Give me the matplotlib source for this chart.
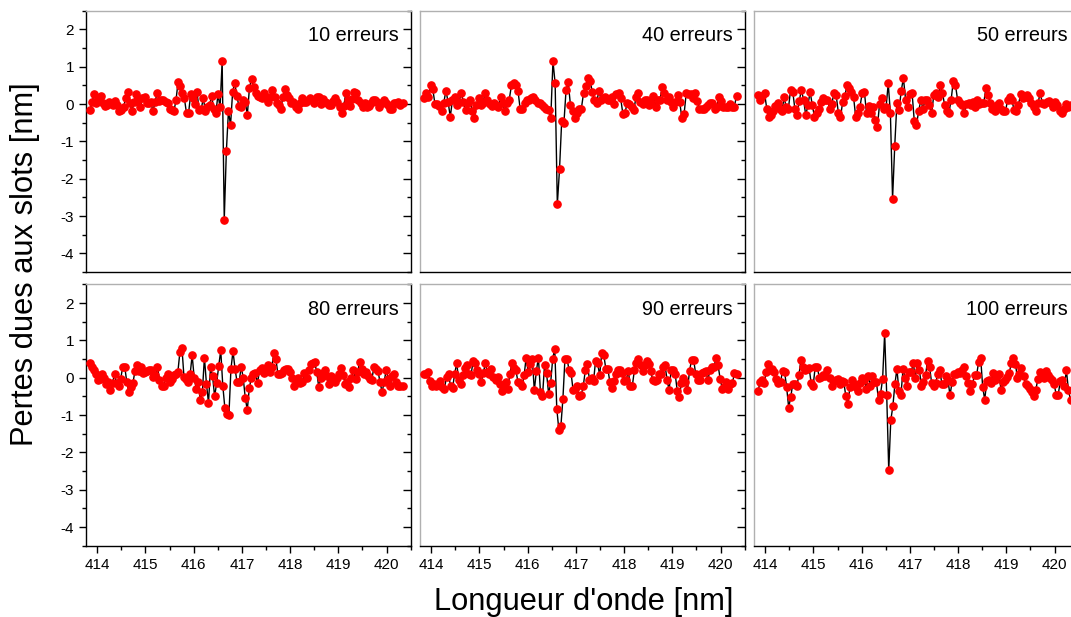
import numpy as np
import matplotlib
matplotlib.use("Agg")
import matplotlib.pyplot as plt
from matplotlib.ticker import MultipleLocator

plt.rcParams['font.family'] = ['Liberation Sans', 'DejaVu Sans']
plt.rcParams['axes.unicode_minus'] = False

# ---- data ----
WL_START, WL_END = 413.85, 420.33
titles = ["10 erreurs", "40 erreurs", "50 erreurs", "80 erreurs", "90 erreurs", "100 erreurs"]
x_ticks = [414, 415, 416, 417, 418, 419, 420]
y_ticks = [2, 1, 0, -1, -2, -3, -4]

err10 = [-0.17, 0.06, 0.28, 0.02, 0.1, 0.21, 0.02, -0.05, -0.03, 0.06, 0.02, -0.03, 0.09, -0.03, -0.2,
         -0.16, -0.07, 0.15, 0.31, 0.02, -0.19, 0.06, 0.26, 0.11, -0.07, 0.15, 0.18, 0.02, 0.04, 0.06,
         -0.2, 0.06, 0.29, 0.09, 0.12, 0.11, 0.06, 0.02, -0.14, -0.16, -0.2, 0.11, 0.6, 0.48, 0.3,
         0.15, -0.25, -0.23, 0.26, 0.17, 0.0, 0.33, -0.16, -0.14, 0.15, -0.18, -0.09, -0.03, 0.22, -0.14,
         -0.25, 0.26, -0.09, 1.15, -3.1, -1.27, -0.19, -0.56, 0.33, 0.57, 0.21, -0.05, -0.09, 0.11, 0.06,
         -0.29, 0.42, 0.68, 0.45, 0.3, 0.22, 0.2, 0.17, 0.3, 0.15, 0.06, 0.2, 0.37, 0.2, 0.02,
         -0.03, -0.12, 0.2, 0.39, 0.24, 0.15, 0.02, 0.06, -0.07, -0.12, 0.02, 0.15, 0.06, 0.06, 0.11,
         0.15, 0.11, 0.04, 0.2, 0.18, 0.0, 0.125, 0.06, 0.02, -0.03, -0.03, 0.08, 0.15, 0.06, -0.07,
         -0.23, -0.05, 0.3, 0.11, -0.05, 0.125, 0.33, 0.29, 0.1, 0.02, -0.07, 0.02, -0.09, -0.05, 0.02,
         0.11, 0.11, 0.05, -0.07, 0.02, 0.11, 0.04, -0.02, -0.14, -0.12, 0.04, 0.02, 0.06, -0.03, 0.02]

err40 = [0.15, 0.3, 0.2, 0.5, 0.4, 0.0, 0.0, -0.05, -0.2, 0.02, 0.36, 0.06, -0.34, 0.1, 0.2,
         -0.03, 0.06, 0.29, 0.06, -0.16, 0.02, 0.12, -0.18, -0.38, -0.03, 0.15, -0.03, 0.04, 0.3, 0.12,
         0.0, -0.05, 0.02, -0.03, -0.09, 0.2, 0.02, -0.2, 0.02, 0.12, 0.5, 0.55, 0.5, 0.36, -0.14,
         -0.14, 0.04, 0.1, 0.12, 0.15, 0.18, 0.12, 0.04, 0.02, -0.03, -0.09, -0.12, -0.16, -0.38, 1.15,
         0.55, -2.69, -1.75, -0.45, -0.52, 0.38, 0.58, -0.03, -0.2, -0.38, -0.25, -0.14, -0.12, 0.29,
         0.48, 0.69, 0.62, 0.33, 0.1, 0.02, 0.36, 0.12, 0.15, 0.2, 0.12, 0.1, 0.2, 0.0, 0.27,
         0.3, 0.15, -0.27, -0.23, 0.04, 0.0, -0.09, -0.16, 0.18, 0.29, 0.06, 0.0, 0.1, 0.12, -0.03,
         0.04, 0.21, -0.07, 0.12, 0.12, 0.45, 0.29, 0.1, 0.2, 0.06, -0.09, 0.06, 0.24, 0.06, -0.38,
         -0.27, 0.29, 0.27, 0.27, 0.15, 0.29, 0.09, -0.12, -0.14, -0.14, -0.07, -0.03, 0.04, 0.02, -0.14,
         -0.07, 0.2, 0.09, -0.09, -0.09, -0.07, 0.0, -0.09, -0.07, 0.21]

err50 = [0.24, 0.1, 0.21, 0.3, -0.12, -0.36, -0.3, -0.18, -0.05, 0.04, -0.14, -0.2, 0.18, -0.09,
         -0.12, 0.38, 0.33, -0.14, -0.3, 0.09, 0.38, 0.1, -0.3, -0.03, 0.33, -0.03, -0.34, -0.25, -0.14,
         0.06, 0.15, 0.1, 0.1, -0.12, 0.0, 0.3, 0.24, -0.23, -0.36, 0.06, 0.21, 0.5, 0.42, 0.33,
         0.2, -0.34, -0.25, -0.07, 0.3, 0.33, -0.25, -0.05, -0.25, -0.09, -0.43, -0.61, 0.0, 0.15,
         -0.12, -0.09, 0.55, -0.25, -2.54, -1.12, 0.04, -0.16, 0.36, 0.69, 0.12, -0.07, 0.27, 0.29, -0.45,
         -0.56, -0.2, 0.1, -0.12, 0.1, 0.12, -0.03, -0.25, 0.24, 0.3, 0.2, 0.5, 0.29, -0.03, -0.2,
         -0.23, 0.12, 0.62, 0.5, 0.1, 0.04, -0.03, -0.25, 0.0, 0.04, -0.03, 0.06, -0.07, 0.1, 0.0,
         0.02, 0.02, 0.42, 0.24, 0.04, -0.12, -0.18, -0.03, 0.02, -0.14, -0.18, -0.2, 0.1, 0.2, 0.1,
         -0.16, -0.2, -0.03, 0.27, 0.15, 0.18, 0.24, 0.15, 0.02, -0.09, -0.2, 0.02, 0.29, 0.04, 0.0,
         0.06, 0.09, 0.02, -0.09, 0.06, -0.03, -0.2, -0.25, -0.12, 0.0, -0.09, -0.03]

err80 = [0.39, 0.29, 0.21, 0.11, -0.07, -0.03, 0.09, 0.0, -0.16, -0.12, -0.34, -0.14, 0.09, -0.14, -0.21,
         -0.03, 0.29, 0.29, -0.12, -0.38, -0.25, -0.14, 0.18, 0.33, 0.18, 0.3, 0.12, 0.15, 0.18, 0.2,
         0.2, 0.02, 0.06, 0.29, -0.05, -0.21, -0.21, 0.0, 0.09, -0.12, -0.03, 0.06, 0.11, 0.15, 0.69,
         0.8, 0.02, -0.03, -0.12, 0.09, 0.6, 0.0, -0.29, -0.12, -0.61, -0.38, 0.54, -0.16, -0.68, 0.29,
         0.04, -0.5, -0.14, 0.31, 0.73, -0.21, -0.8, -0.98, -1.0, 0.24, 0.71, 0.24, -0.12, -0.12, 0.3,
         0.0, -0.54, -0.86, -0.27, 0.0, 0.09, 0.12, -0.14, 0.2, 0.27, 0.12, 0.21, 0.33, 0.15, 0.29,
         0.66, 0.51, 0.09, 0.09, 0.12, 0.2, 0.24, 0.24, 0.15, 0.0, -0.21, -0.05, 0.0, -0.14, -0.12,
         0.12, 0.0, 0.2, 0.36, 0.39, 0.42, 0.15, -0.25, 0.0, 0.12, 0.21, 0.04, -0.18, 0.04, -0.03,
         -0.12, 0.0, 0.09, 0.27, 0.06, -0.18, -0.12, -0.25, 0.0, 0.21, -0.03, 0.15, 0.42, 0.24, 0.11,
         0.15, 0.04, -0.03, -0.05, 0.29, 0.24, 0.18, -0.12, -0.38, -0.12, 0.21, -0.03, -0.21, 0.04, 0.09,
         -0.12, -0.21, -0.21, -0.21]

err90 = [0.11, 0.09, 0.15, -0.09, -0.21, -0.16, -0.23, -0.18, -0.09, -0.25, -0.29, 0.02, 0.09, -0.23, -0.27,
         0.11, 0.39, -0.07, -0.16, 0.06, 0.27, 0.33, 0.09, 0.06, 0.45, 0.39, 0.2, 0.09, -0.12, 0.12,
         0.39, 0.15, 0.09, 0.24, 0.02, -0.07, 0.02, -0.18, -0.36, -0.21, -0.12, -0.29, 0.09, 0.39, 0.27,
         0.2, -0.12, -0.14, -0.23, 0.06, 0.54, 0.15, 0.36, 0.51, -0.34, 0.18, 0.54, -0.38, -0.5, 0.33,
         0.12, -0.43, -0.14, 0.51, 0.78, -0.83, -1.39, -1.3, -0.56, 0.51, 0.51, 0.21, 0.12, -0.34, -0.29,
         -0.23, -0.5, -0.47, -0.21, 0.21, 0.36, -0.05, 0.0, -0.09, 0.46, 0.39, 0.06, 0.66, 0.62, 0.24,
         0.24, -0.12, -0.27, -0.09, 0.11, 0.2, 0.2, 0.12, -0.09, -0.07, 0.18, -0.21, -0.21, 0.2, 0.39,
         0.51, 0.33, 0.18, 0.33, 0.45, 0.38, 0.18, -0.07, -0.09, -0.05, 0.09, 0.09, 0.29, 0.33, -0.05,
         -0.34, 0.21, 0.2, 0.09, -0.36, -0.52, -0.14, 0.0, -0.12, -0.32, 0.18, 0.48, 0.48, 0.11, -0.05,
         -0.05, 0.12, 0.15, 0.18, -0.07, 0.21, 0.3, 0.29, 0.54, 0.33, -0.03, -0.29, -0.25, -0.12, -0.29,
         -0.16, -0.14, 0.12, 0.09]

err100 = [-0.36, -0.12, -0.07, -0.14, 0.15, 0.36, 0.21, 0.24, 0.15, -0.03, -0.14, -0.12, 0.18, 0.15,
          -0.25, -0.8, -0.52, -0.16, -0.18, -0.21, 0.06, 0.48, 0.3, 0.2, 0.24, 0.27, -0.14, -0.21,
          0.3, 0.29, 0.0, 0.02, 0.06, 0.04, 0.2, 0.0, -0.23, -0.09, -0.07, -0.03, -0.18, -0.09,
          -0.12, -0.5, -0.7, -0.25, -0.05, -0.16, -0.25, -0.36, -0.14, 0.0, -0.05, -0.29, 0.04, -0.21, 0.04,
          -0.12, -0.12, -0.61, -0.43, -0.03, 1.2, -0.45, -2.48, -1.14, -0.77, -0.18, 0.24, -0.36, -0.45, 0.24,
          0.0, -0.21, 0.15, 0.15, 0.39, 0.0, 0.39, 0.21, -0.21, -0.12, 0.06, 0.45, 0.29, -0.14, -0.23,
          -0.14, 0.11, 0.2, -0.16, -0.16, 0.04, -0.07, -0.47, -0.12, 0.11, 0.09, 0.15, 0.12, 0.2, 0.29,
          0.04, -0.14, -0.36, -0.16, 0.06, 0.06, 0.42, 0.54, -0.25, -0.59, -0.09, -0.05, -0.14, 0.12, -0.05,
          0.04, 0.09, -0.34, -0.12, -0.05, 0.02, 0.12, 0.39, 0.54, 0.38, 0.0, 0.09, 0.27, 0.04, -0.16,
          -0.23, -0.29, -0.38, -0.5, -0.34, -0.03, 0.15, 0.11, 0.0, 0.18, 0.06, 0.0, -0.05, -0.18, -0.45,
          -0.45, -0.09, -0.05, -0.21, 0.2, -0.34, -0.59]

series = [err10, err40, err50, err80, err90, err100]

# ---- layout ----
W, H = 1071, 617
fig = plt.figure(figsize=(W / 100, H / 100), dpi=100)

col_left = [85.7, 419.7, 753.7]
row_top = [10.7, 284.4]
ax_w, ax_h = 325.0, 261.3

axes = []
for r in range(2):
    for c in range(3):
        l = col_left[c] / W
        b = 1 - (row_top[r] + ax_h) / H
        ax = fig.add_axes([l, b, ax_w / W, ax_h / H])
        axes.append((ax, r, c))

for k, (ax, r, c) in enumerate(axes):
    vals = series[k]
    wl = np.linspace(WL_START, WL_END, len(vals))
    ax.plot(wl, vals, color='black', lw=1.0, zorder=2)
    ax.plot(wl, vals, ls='none', marker='o', ms=5.2, mfc='#ff0000', mec='#ff0000', zorder=3)
    ax.set_xlim(413.76, 420.5)
    ax.set_ylim(-4.5, 2.5)
    ax.set_xticks(x_ticks)
    ax.set_yticks(y_ticks)
    ax.xaxis.set_minor_locator(MultipleLocator(0.5))
    ax.yaxis.set_minor_locator(MultipleLocator(0.5))

    if c == 2:
        # keep the label inside the visible part of the (cropped) right column
        ax.text((1068 - col_left[c]) / ax_w, 0.905, titles[k], transform=ax.transAxes,
                ha='right', va='center', fontsize=14.3)
    else:
        ax.text(0.685, 0.905, titles[k], transform=ax.transAxes, ha='left', va='center',
                fontsize=14.3)

    for s in ['top', 'left', 'right', 'bottom']:
        ax.spines[s].set_linewidth(1.0)
    ax.spines['top'].set_color('#b0b0b0')
    ax.spines['right'].set_color('black')
    ax.spines['left'].set_color('black' if c == 0 else '#b0b0b0')
    ax.spines['bottom'].set_color('black')

    # left side: outward labelled ticks on first column only
    ax.tick_params(axis='y', which='major', left=(c == 0), right=False, labelleft=(c == 0),
                   direction='out', length=5, width=1, labelsize=11)
    ax.tick_params(axis='y', which='minor', left=(c == 0), right=False, direction='out',
                   length=3, width=1)
    # right side: inward ticks without labels
    sec = ax.secondary_yaxis('right')
    sec.set_yticks(y_ticks)
    sec.yaxis.set_minor_locator(MultipleLocator(0.5))
    sec.tick_params(axis='y', which='major', direction='in', length=6, width=1, labelright=False)
    sec.tick_params(axis='y', which='minor', direction='in', length=3, width=1)
    sec.spines['right'].set_visible(False)

    if r == 1:
        ax.tick_params(axis='x', which='major', bottom=True, labelbottom=True, direction='out',
                       length=5, width=1, labelsize=11, pad=4)
        ax.tick_params(axis='x', which='minor', bottom=True, direction='out', length=3, width=1)
    else:
        ax.tick_params(axis='x', which='both', bottom=False, labelbottom=False)

fig.text(584 / W, 1 - 602 / H, "Longueur d'onde [nm]", ha='center', va='center', fontsize=22.2)
fig.text(25 / W, 1 - 264 / H, "Pertes dues aux slots [nm]", ha='center', va='center',
         rotation=90, fontsize=22.2)

fig.savefig("out.png", dpi=100)
